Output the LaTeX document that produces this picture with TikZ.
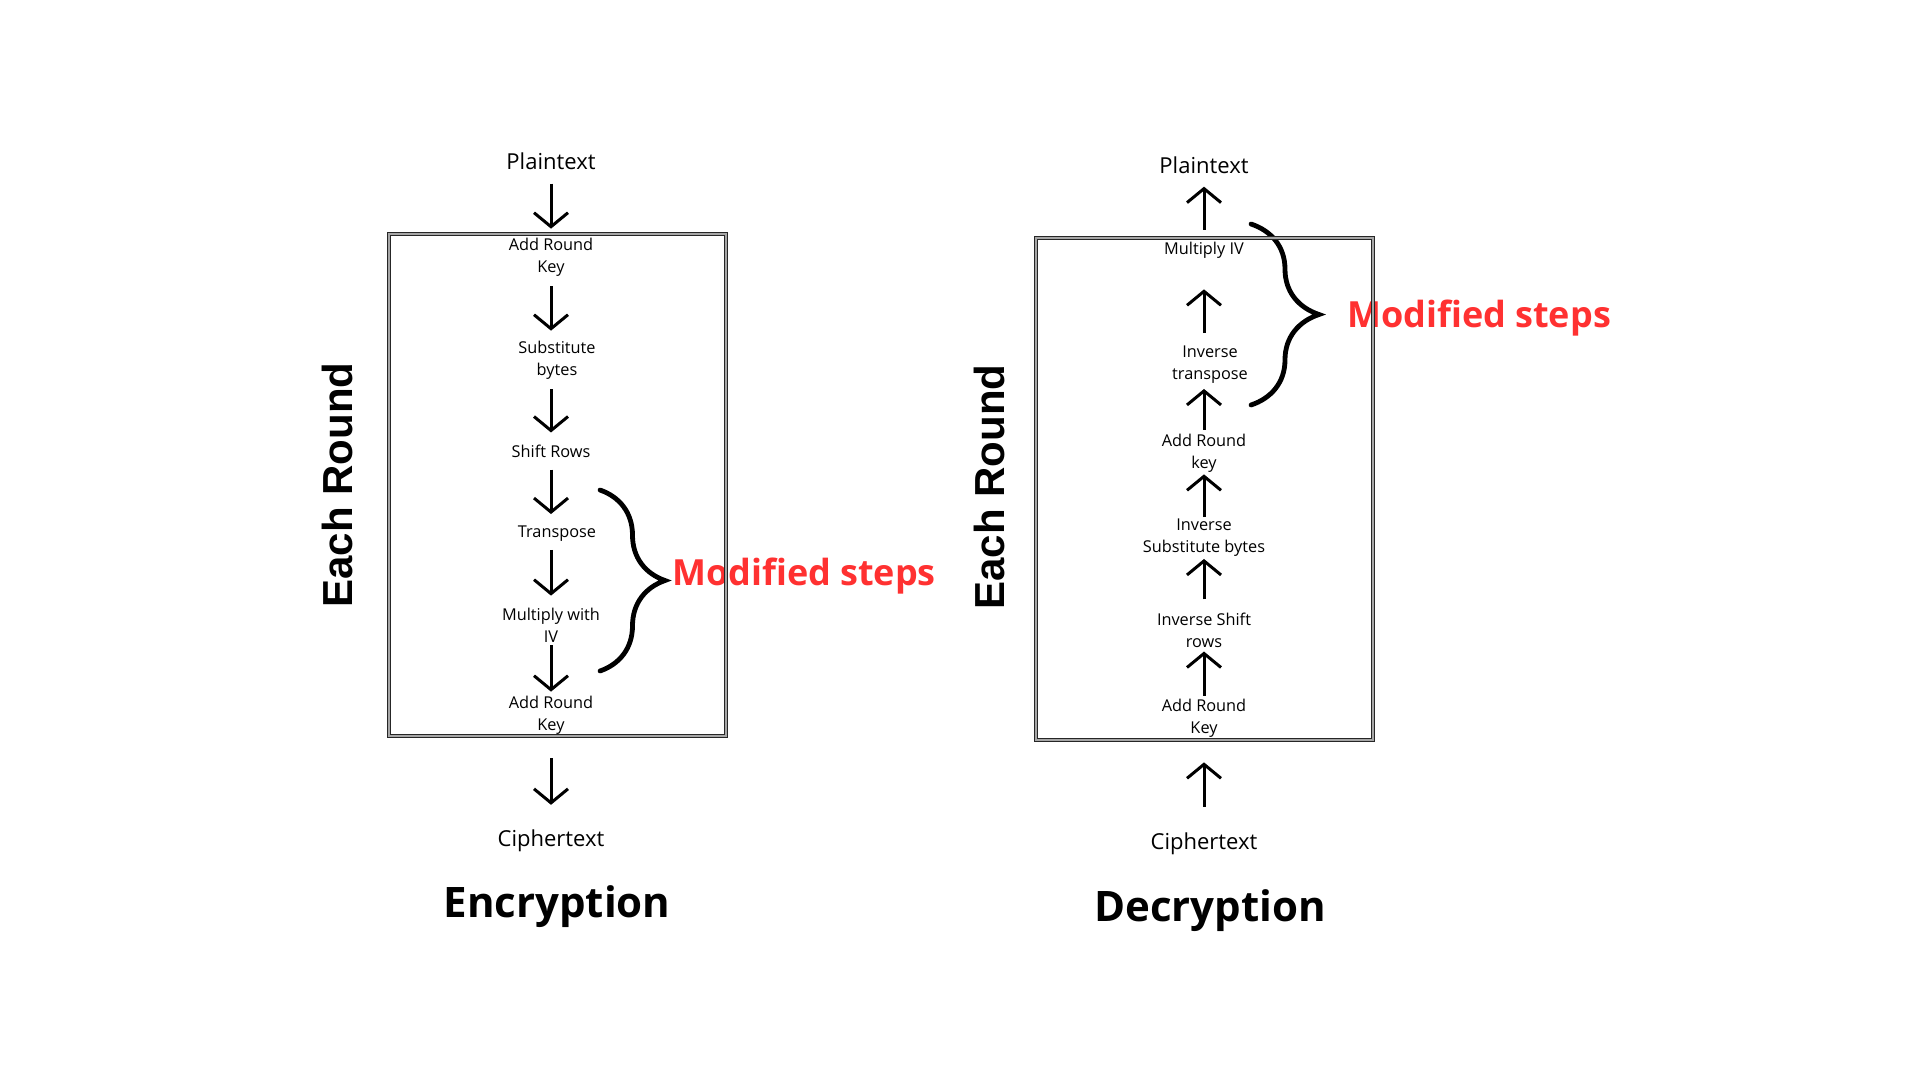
\documentclass[tikz,border=0pt]{standalone}
\usepackage{fontspec}
\setmainfont{Open Sans}
\newfontfamily\headfont{Liberation Sans}
\usetikzlibrary{arrows.meta, positioning, decorations.pathreplacing}
\definecolor{modred}{HTML}{FF3131}

\begin{document}
\begin{tikzpicture}[x=1pt, y=1pt,
    lbl/.style={align=center, inner sep=0pt, font=\fontsize{16.3}{22}\selectfont},
    endtxt/.style={inner sep=0pt, font=\fontsize{22}{26}\selectfont},
    title/.style={inner sep=0pt, font=\fontsize{42}{50}\selectfont\bfseries},
    roundtxt/.style={inner sep=0pt, rotate=90, font=\headfont\fontsize{42}{50}\selectfont\bfseries},
    modtxt/.style={inner sep=0pt, text=modred, font=\fontsize{36}{43}\selectfont\bfseries},
    frame/.style={draw=black!85, double=black!35, double distance=1.2pt, line width=1.5pt},
    arr/.style={-{Straight Barb[length=14pt, width=34pt]}, line width=3pt,
                shorten <=10pt, shorten >=10pt},
    modbrace/.style={decorate, decoration={brace, amplitude=#1}, line width=4.8pt, line cap=round}
  ]
  \useasboundingbox (0,0) rectangle (1920,-1080);
  \fill[white] (0,0) rectangle (1920,-1080);

  % encryption
  \node[endtxt] (ptE) at (551,-161) {Plaintext};
  \node[lbl] (arkE1) at (551,-257) {Add Round\\Key};
  \node[lbl] (subE) at (557,-360) {Substitute\\bytes};
  \node[lbl] (shiftE) at (551,-451) {Shift Rows};
  \node[lbl] (trE) at (557,-534) {Transpose};
  \node[lbl] (mulE) at (551,-625) {Multiply with\\IV};
  \node[lbl] (arkE2) at (551,-715) {Add Round\\Key};
  \node[endtxt] (ctE) at (551,-841) {Ciphertext};
  \node[title] (encT) at (557,-907) {Encryption};
  \node[roundtxt] (roundE) at (337,-485) {Each Round};
  \node[modtxt] (modE) at (804,-576) {Modified steps};

  \draw[arr, shorten <=14pt, shorten >=9pt] (ptE.south) -- (arkE1.north);
  \draw[arr, shorten <=10pt, shorten >=10pt] (arkE1.south) -- (subE.north -| arkE1);
  \draw[arr, shorten <=10pt, shorten >=12pt] (subE.south -| arkE1) -- (shiftE.north);
  \draw[arr, shorten <=12pt, shorten >=12pt] (shiftE.south) -- (trE.north -| shiftE);
  \draw[arr, shorten <=8pt, shorten >=12pt] (trE.south -| shiftE) -- (mulE.north);
  \draw[arr, shorten <=3pt, shorten >=4pt] (mulE.south) -- (arkE2.north);
  \draw[arr, shorten <=24pt, shorten >=25pt] (arkE2.south) -- (ctE.north);

  \draw[modbrace=65pt] (600,-490) -- (600,-671);
  \draw[frame] (389,-234) rectangle (726,-736);

  % decryption
  \node[endtxt] (ptD) at (1204,-165) {Plaintext};
  \node[lbl] (mulD) at (1204,-250) {Multiply IV};
  \node[lbl] (trD) at (1210,-365) {Inverse\\transpose};
  \node[lbl] (arkD1) at (1204,-453) {Add Round\\key};
  \node[lbl] (subD) at (1204,-538) {Inverse\\Substitute bytes};
  \node[lbl] (shiftD) at (1204,-630) {Inverse Shift\\rows};
  \node[lbl] (arkD2) at (1204,-718) {Add Round\\Key};
  \node[endtxt] (ctD) at (1204,-844) {Ciphertext};
  \node[title] (decT) at (1210,-911) {Decryption};
  \node[roundtxt] (roundD) at (989,-487) {Each Round};
  \node[modtxt] (modD) at (1479,-318) {Modified steps};

  \draw[arr, shorten <=12pt, shorten >=13pt] (mulD.north) -- (ptD.south);
  \draw[arr, shorten <=13pt, shorten >=31pt] (trD.north -| mulD) -- (mulD.south);
  \draw[arr, shorten <=4pt, shorten >=5pt] (arkD1.north) -- (trD.south -| arkD1);
  \draw[arr, shorten <=2pt, shorten >=2pt] (subD.north) -- (arkD1.south);
  \draw[arr, shorten <=13pt, shorten >=2pt] (shiftD.north) -- (subD.south);
  \draw[arr, shorten <=3pt, shorten >=4pt] (arkD2.north) -- (shiftD.south);
  \draw[arr, shorten <=26pt, shorten >=25pt] (ctD.north) -- (arkD2.south);

  \draw[modbrace=68pt] (1251,-224) -- (1251,-405);
  \draw[frame] (1036,-238) rectangle (1373,-740);
\end{tikzpicture}
\end{document}
